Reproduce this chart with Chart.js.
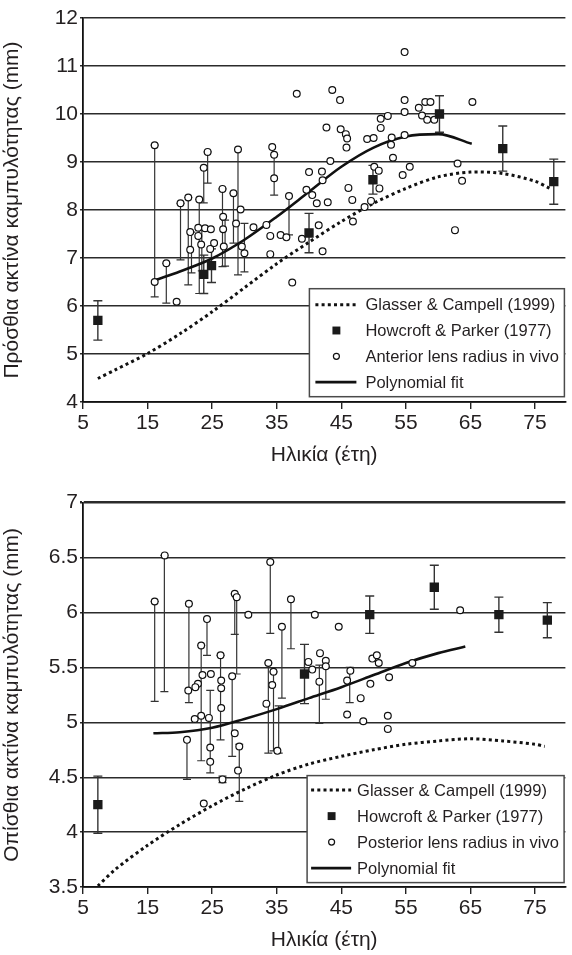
<!DOCTYPE html>
<html>
<head>
<meta charset="utf-8">
<script src="https://cdn.jsdelivr.net/npm/chart.js@4.4.1/dist/chart.umd.min.js"></script>
<style>
    html, body { margin: 0; padding: 0; background: #fff; }
    canvas { display: block; }
</style>
</head>
<body>
<canvas id="anterior" width="572" height="470"></canvas>
<canvas id="posterior" width="572" height="485"></canvas>
<script>
// shared axis
const xTicks = [5, 15, 25, 35, 45, 55, 65, 75];
const antYTicks = [4, 5, 6, 7, 8, 9, 10, 11, 12];
const postYTicks = [3.5, 4, 4.5, 5, 5.5, 6, 6.5, 7];

// Glasser & Campbell (1999) model curves
const gcAge = [7.3, 10, 15, 20, 25, 30, 35, 40, 45, 50, 55, 60, 65, 70, 75, 77.3];
const gcAnt = [4.49, 4.67, 5.01, 5.42, 5.88, 6.38, 6.88, 7.33, 7.76, 8.14, 8.45, 8.69, 8.79, 8.76, 8.6, 8.45];
const gcPostAge = [7.3, 10, 15, 20, 25, 30, 35, 40, 45, 50, 55, 60, 65, 70, 75, 76.5];
const gcPost = [3.51, 3.66, 3.88, 4.07, 4.24, 4.39, 4.52, 4.62, 4.69, 4.75, 4.8, 4.83, 4.85, 4.83, 4.8, 4.78];

// Howcroft & Parker (1977), mean +- sd
const hpAntAge = [7.3, 23.7, 24.9, 40.0, 49.9, 60.2, 70.0, 77.9];
const hpAnt = [5.7, 6.66, 6.84, 7.52, 8.63, 10.0, 9.28, 8.59];
const hpAntSd = [0.41, 0.4, 0.35, 0.41, 0.3, 0.38, 0.47, 0.47];
const hpPostAge = [7.3, 39.3, 49.4, 59.4, 69.4, 76.9];
const hpPost = [4.25, 5.44, 5.98, 6.23, 5.98, 5.93];
const hpPostSd = [0.26, 0.27, 0.17, 0.2, 0.16, 0.16];

// polynomial fits
const fitAntAge = [16.2, 20, 25, 30, 35, 40, 45, 50, 55, 60, 65.2];
const fitAnt = [6.54, 6.72, 6.99, 7.38, 7.86, 8.38, 8.9, 9.3, 9.53, 9.58, 9.38];
const fitPostAge = [15.9, 20, 25, 30, 35, 40, 45, 50, 55, 60, 64.2];
const fitPost = [4.9, 4.91, 4.95, 5.03, 5.12, 5.22, 5.32, 5.43, 5.54, 5.63, 5.69];

// anterior lens radius in vivo
const antAge = [16.1, 16.1, 17.9, 19.5, 20.1, 21.3, 21.6, 21.6, 23.0, 22.85, 22.85, 23.3, 23.7, 24.3, 23.9,
    24.8, 24.7, 25.3, 26.6, 26.7, 26.7, 26.8, 28.3, 29.0, 28.7, 29.4, 30.0, 29.6, 31.4, 33.4, 34.0, 34.0,
    34.3, 34.6, 34.6, 35.6, 36.5, 36.9, 37.4, 38.1, 38.9, 39.6, 40.0, 40.5, 41.2, 41.5, 42.1, 42.0, 42.1,
    42.9, 43.3, 42.7, 43.6, 44.8, 44.9, 45.7, 45.9, 45.8, 46.1, 46.7, 46.8, 49.0, 50.0, 51.1, 51.1, 52.2,
    52.8, 52.7, 53.0, 50.1, 50.8, 50.9, 49.6, 48.6, 54.5, 55.6, 54.8, 54.8, 54.8, 54.8, 57.0, 57.5, 58.0,
    58.8, 58.3, 59.4, 63.0, 63.7, 62.6, 65.3];
const antR = [9.35, 6.5, 6.89, 6.09, 8.14, 8.26, 7.54, 7.17, 8.22, 7.63, 7.46, 7.28, 8.88, 9.21, 7.62,
    7.6, 7.19, 7.31, 8.44, 7.86, 7.6, 7.24, 8.35, 9.26, 7.72, 8.01, 7.1, 7.24, 7.64, 7.69, 7.46, 7.08,
    9.31, 9.15, 8.66, 7.48, 7.43, 8.29, 6.49, 10.42, 7.4, 8.42, 8.79, 8.31, 8.14, 7.68, 7.14, 8.8, 8.62,
    8.16, 9.02, 9.72, 10.5, 10.29, 9.68, 9.58, 9.49, 9.3, 8.46, 8.21, 7.76, 9.48, 9.5, 9.71, 9.9, 9.96,
    9.51, 9.36, 9.09, 8.9, 8.82, 8.45, 8.19, 8.06, 8.73, 8.9, 9.56, 10.04, 10.29, 11.29, 10.13, 9.97, 10.25,
    10.25, 9.88, 9.88, 8.97, 8.61, 7.58, 10.25];
const antBarAge = [16.1, 17.9, 20.1, 21.3, 21.8, 23.0, 23.4, 23.7, 24.3, 26.6, 27.0, 28.3, 29.0, 30.0, 34.6, 36.9];
const antBarHigh = [9.35, 6.89, 8.14, 8.26, 7.54, 8.22, 7.63, 8.88, 9.21, 8.44, 7.79, 8.35, 9.26, 7.72, 9.15, 8.29];
const antBarLow = [6.19, 6.06, 6.96, 6.44, 6.69, 6.26, 6.73, 8.15, 8.56, 6.82, 6.83, 7.31, 6.65, 6.71, 8.31, 7.48];

// posterior lens radius in vivo
const postAge = [16.1, 17.65, 21.4, 24.2, 23.3, 26.3, 28.5, 28.8, 30.6, 34.0, 37.2, 35.8, 40.9, 33.7, 34.5,
    34.3, 33.4, 35.1, 28.1, 26.4, 26.4, 26.4, 23.5, 24.8, 22.8, 22.4, 21.3, 23.3, 22.3, 24.5, 21.1, 24.7,
    24.7, 28.5, 29.2, 23.7, 26.6, 29.0, 39.9, 40.5, 41.7, 42.6, 42.6, 41.6, 44.6, 63.4, 45.9, 46.4, 49.8,
    50.5, 50.8, 56.0, 52.4, 49.5, 48.0, 45.9, 48.4, 52.2, 52.2];
const postR = [6.1, 6.52, 6.08, 5.94, 5.7, 5.61, 6.17, 6.14, 5.98, 6.46, 6.12, 5.87, 5.98, 5.54, 5.46,
    5.34, 5.17, 4.74, 5.42, 5.38, 5.31, 5.13, 5.43, 5.44, 5.35, 5.32, 5.29, 5.06, 5.03, 5.04, 4.84, 4.77,
    4.64, 4.9, 4.78, 4.26, 4.48, 4.56, 5.55, 5.48, 5.63, 5.56, 5.51, 5.37, 5.87, 6.02, 5.38, 5.47, 5.58,
    5.61, 5.54, 5.54, 5.41, 5.35, 5.22, 5.07, 5.01, 5.06, 4.94];
const postBarAge = [16.1, 17.6, 21.4, 24.2, 23.3, 26.3, 28.8, 28.5, 34.0, 37.2, 35.8, 33.7, 34.5, 35.3,
    28.1, 21.1, 24.7, 29.2, 26.6, 41.6, 42.6, 46.3];
const postBarHigh = [6.1, 6.52, 6.08, 5.94, 5.7, 5.61, 6.14, 6.17, 6.46, 6.12, 5.87, 5.54, 5.46, 5.15,
    5.42, 4.84, 5.29, 4.8, 4.51, 5.52, 5.51, 5.5];
const postBarLow = [5.19, 5.28, 5.18, 5.61, 4.65, 4.84, 5.44, 5.8, 5.81, 5.67, 5.22, 4.72, 4.74, 4.72,
    4.69, 4.48, 4.54, 4.28, 4.45, 4.99, 5.21, 5.18];

const INK = "#231f20";
const FONT = '"Liberation Sans", Arial, Helvetica, sans-serif';
Chart.defaults.font.family = FONT;
Chart.defaults.color = INK;

const pts = (xs, ys) => xs.map((x, i) => ({ x: x, y: ys[i] }));

// vertical bars with caps, drawn under the markers
function errorBars(groups) {
    return {
        id: "errorBars",
        beforeDatasetsDraw(chart) {
            const { ctx, chartArea } = chart;
            const x = chart.scales.x;
            const y = chart.scales.y;
            ctx.save();
            ctx.beginPath();
            ctx.rect(chartArea.left, chartArea.top, chartArea.width, chartArea.height);
            ctx.clip();
            groups.forEach((g) => {
                ctx.strokeStyle = g.color;
                ctx.lineWidth = g.width;
                g.age.forEach((a, i) => {
                    const px = x.getPixelForValue(a);
                    const top = y.getPixelForValue(g.high[i]);
                    const bot = y.getPixelForValue(g.low[i]);
                    ctx.beginPath();
                    ctx.moveTo(px, top);
                    ctx.lineTo(px, bot);
                    ctx.moveTo(px - g.cap, top);
                    ctx.lineTo(px + g.cap, top);
                    ctx.moveTo(px - g.cap, bot);
                    ctx.lineTo(px + g.cap, bot);
                    ctx.stroke();
                });
            });
            ctx.restore();
        },
    };
}

// boxed legend sitting in the lower right corner of the plot
function boxLegend(box) {
    return {
        id: "boxLegend",
        afterDraw(chart) {
            const { ctx, chartArea } = chart;
            const right = chartArea.right - box.right;
            const bottom = chartArea.bottom - box.bottom;
            const left = right - box.width;
            const top = bottom - box.height;
            ctx.save();
            ctx.fillStyle = "#fff";
            ctx.fillRect(left, top, box.width, box.height);
            ctx.strokeStyle = "#4a4a4a";
            ctx.lineWidth = 1.5;
            ctx.strokeRect(left, top, box.width, box.height);

            chart.data.datasets.forEach((ds, i) => {
                const cy = top + box.first + i * box.step;
                if (ds.showLine) {
                    ctx.strokeStyle = ds.borderColor;
                    ctx.lineWidth = ds.borderWidth;
                    ctx.setLineDash(ds.borderDash || []);
                    ctx.beginPath();
                    ctx.moveTo(left + box.lineFrom, cy);
                    ctx.lineTo(left + box.lineTo, cy);
                    ctx.stroke();
                    ctx.setLineDash([]);
                } else {
                    ctx.fillStyle = ds.backgroundColor;
                    ctx.strokeStyle = ds.borderColor;
                    ctx.lineWidth = ds.borderWidth;
                    Chart.helpers.drawPoint(ctx, {
                        pointStyle: ds.pointStyle,
                        rotation: 0,
                        radius: ds.pointStyle === "rect" ? 5.6 : 3,
                        borderWidth: ds.borderWidth,
                    }, left + box.mark, cy);
                }
                ctx.fillStyle = INK;
                ctx.font = "16.5px " + FONT;
                ctx.textBaseline = "middle";
                ctx.textAlign = "left";
                ctx.fillText(ds.label, left + box.text, cy + 1);
            });
            ctx.restore();
        },
    };
}

function makeChart(canvasId, cfg) {
    const ctx = document.getElementById(canvasId).getContext("2d");
    return new Chart(ctx, {
        type: "scatter",
        data: {
            datasets: [
                {
                    label: "Glasser & Campell (1999)",
                    data: pts(cfg.gcAge, cfg.gc),
                    showLine: true,
                    borderColor: "#111",
                    borderWidth: 3,
                    borderDash: [3, 3.2],
                    pointRadius: 0,
                    tension: 0.3,
                    order: 3,
                },
                {
                    label: "Howcroft & Parker (1977)",
                    data: pts(cfg.hpAge, cfg.hp),
                    pointStyle: "rect",
                    pointRadius: 6.6,
                    backgroundColor: "#1a1a1a",
                    borderColor: "#1a1a1a",
                    borderWidth: 0,
                    order: 0,
                },
                {
                    label: cfg.circleLabel,
                    data: pts(cfg.age, cfg.r),
                    pointStyle: "circle",
                    pointRadius: 3.4,
                    backgroundColor: "#fff",
                    borderColor: "#111",
                    borderWidth: 1.2,
                    order: 1,
                },
                {
                    label: "Polynomial fit",
                    data: pts(cfg.fitAge, cfg.fit),
                    showLine: true,
                    borderColor: "#111",
                    borderWidth: 2.6,
                    pointRadius: 0,
                    cubicInterpolationMode: "monotone",
                    order: 2,
                },
            ],
        },
        options: {
            responsive: false,
            animation: false,
            events: [],
            layout: { padding: { top: cfg.padTop, right: 0, left: 0, bottom: 0 } },
            plugins: {
                legend: { display: false },
                tooltip: { enabled: false },
            },
            scales: {
                x: {
                    type: "linear",
                    min: 5,
                    max: 79.7,
                    afterBuildTicks: (s) => { s.ticks = xTicks.map((v) => ({ value: v })); },
                    afterFit: (s) => { s.height = 68; },
                    ticks: { font: { size: 21 }, padding: 2, callback: (v) => String(v), maxRotation: 0 },
                    grid: { drawOnChartArea: false, tickLength: 7, color: "#222", lineWidth: 1.4 },
                    border: { color: "#111", width: 1.8 },
                    title: { display: true, text: "Ηλικία (έτη)", font: { size: 21 }, padding: { top: 0, bottom: 2 } },
                },
                y: {
                    min: cfg.yTicks[0],
                    max: cfg.yTicks[cfg.yTicks.length - 1],
                    afterBuildTicks: (s) => { s.ticks = cfg.yTicks.map((v) => ({ value: v })); },
                    afterFit: (s) => { s.width = 83; },
                    ticks: { font: { size: 21 }, padding: 2, callback: (v) => String(v) },
                    grid: {
                        color: "#2b2b2b",
                        lineWidth: (c) => (c.tick && c.tick.value === cfg.yTicks[cfg.yTicks.length - 1] ? cfg.topLine : 1.4),
                        tickLength: 3,
                    },
                    border: { color: "#111", width: 1.8 },
                    title: { display: true, text: cfg.yTitle, font: { size: 21 }, padding: 0 },
                },
            },
        },
        plugins: [
            errorBars([
                { age: cfg.barAge, high: cfg.barHigh, low: cfg.barLow, color: "#333", width: 1.2, cap: 4 },
                {
                    age: cfg.hpAge,
                    high: cfg.hp.map((v, i) => v + cfg.hpSd[i]),
                    low: cfg.hp.map((v, i) => v - cfg.hpSd[i]),
                    color: "#333",
                    width: 1.4,
                    cap: 4.5,
                },
            ]),
            boxLegend(cfg.legend),
        ],
    });
}

makeChart("anterior", {
    gcAge: gcAge, gc: gcAnt,
    hpAge: hpAntAge, hp: hpAnt, hpSd: hpAntSd,
    age: antAge, r: antR, circleLabel: "Anterior lens radius in vivo",
    barAge: antBarAge, barHigh: antBarHigh, barLow: antBarLow,
    fitAge: fitAntAge, fit: fitAnt,
    yTicks: antYTicks,
    yTitle: "Πρόσθια ακτίνα καμπυλότητας (mm)",
    padTop: 18,
    topLine: 1.4,
    legend: { right: 1, bottom: 5.3, width: 255, height: 108, first: 16, step: 25.8, lineFrom: 6, lineTo: 47, mark: 27, text: 56 },
});

makeChart("posterior", {
    gcAge: gcPostAge, gc: gcPost,
    hpAge: hpPostAge, hp: hpPost, hpSd: hpPostSd,
    age: postAge, r: postR, circleLabel: "Posterior lens radius in vivo",
    barAge: postBarAge, barHigh: postBarHigh, barLow: postBarLow,
    fitAge: fitPostAge, fit: fitPost,
    yTicks: postYTicks,
    yTitle: "Οπίσθια ακτίνα καμπυλότητας (mm)",
    padTop: 32.7,
    topLine: 2.6,
    legend: { right: 1.3, bottom: 4.4, width: 257, height: 107, first: 14.5, step: 26, lineFrom: 4, lineTo: 44, mark: 24.5, text: 50 },
});
</script>
</body>
</html>
